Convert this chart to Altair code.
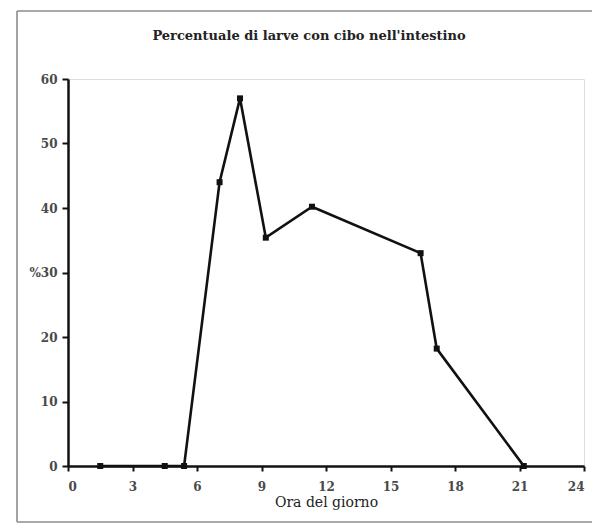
import altair as alt
import pandas as pd

# Hour of day at each sampling time and share of larvae with food in the gut (%)
ore = [1.5, 4.5, 5.4, 7.05, 8.0, 9.2, 11.35, 16.4, 17.15, 21.2]
percentuale = [0, 0, 0, 44, 57, 35.4, 40.2, 33, 18.2, 0]

x_ticks = [0, 3, 6, 9, 12, 15, 18, 21, 24]
y_ticks = [0, 10, 20, 30, 40, 50, 60]

titolo = "Percentuale di larve con cibo nell'intestino"
titolo_x = "Ora del giorno"

df = pd.DataFrame({"ora": ore, "perc": percentuale})

W, H = 516, 387
FONT = "DejaVu Serif"

x_enc = alt.X(
    "ora:Q",
    scale=alt.Scale(domain=[0, 24], nice=False, zero=True),
    axis=alt.Axis(
        values=x_ticks,
        title=titolo_x,
        titleFont=FONT,
        titleFontSize=14,
        titleFontWeight="normal",
        titleColor="#222222",
        titlePadding=3,
        labelFont=FONT,
        labelFontSize=12,
        labelFontWeight="bold",
        labelColor="#4a4a4a",
        labelPadding=10,
        tickSize=5,
        tickWidth=2,
        tickColor="#111111",
        domainColor="#111111",
        domainWidth=2.5,
        grid=False,
    ),
)
y_enc = alt.Y(
    "perc:Q",
    scale=alt.Scale(domain=[0, 60], nice=False),
    axis=alt.Axis(
        values=y_ticks,
        title=None,
        labelExpr="datum.value == 30 ? '%30' : datum.label",
        labelFont=FONT,
        labelFontSize=12,
        labelFontWeight="bold",
        labelColor="#4a4a4a",
        labelPadding=5,
        tickSize=6,
        tickWidth=2,
        tickColor="#111111",
        domainColor="#111111",
        domainWidth=2.5,
        grid=False,
    ),
)

linea = alt.Chart(df).mark_line(color="#111111", strokeWidth=2.6).encode(x=x_enc, y=y_enc)
punti = alt.Chart(df).mark_point(
    shape="square", filled=True, color="#111111", size=36, opacity=1
).encode(x="ora:Q", y="perc:Q")

# grey frame around the figure: left, top and bottom edges, running to the page edge
uno = pd.DataFrame({"k": [0]})
bordo = dict(color="#8c8c8c", strokeWidth=1.6)
bordo_sx = alt.Chart(uno).mark_rule(**bordo).encode(
    x=alt.value(-51), y=alt.value(-68), y2=alt.value(443)
)
bordo_su = alt.Chart(uno).mark_rule(**bordo).encode(
    x=alt.value(-51), x2=alt.value(524), y=alt.value(-68)
)
bordo_giu = alt.Chart(uno).mark_rule(**bordo).encode(
    x=alt.value(-51), x2=alt.value(524), y=alt.value(443)
)

chart = (
    alt.layer(bordo_sx, bordo_su, bordo_giu, linea, punti)
    .properties(
        width=W,
        height=H,
        title=alt.TitleParams(
            titolo,
            font=FONT,
            fontSize=13,
            fontWeight="bold",
            color="#222222",
            anchor="middle",
            dx=-17,
            offset=-33,
        ),
        autosize=alt.AutoSizeParams(type="none"),
        padding={"left": 68, "top": 79, "right": 8, "bottom": 59},
    )
    .configure_view(stroke="transparent", strokeWidth=0)
    .configure(background="white")
)

chart.save("out.html", embed_options={"renderer": "svg", "actions": False})
